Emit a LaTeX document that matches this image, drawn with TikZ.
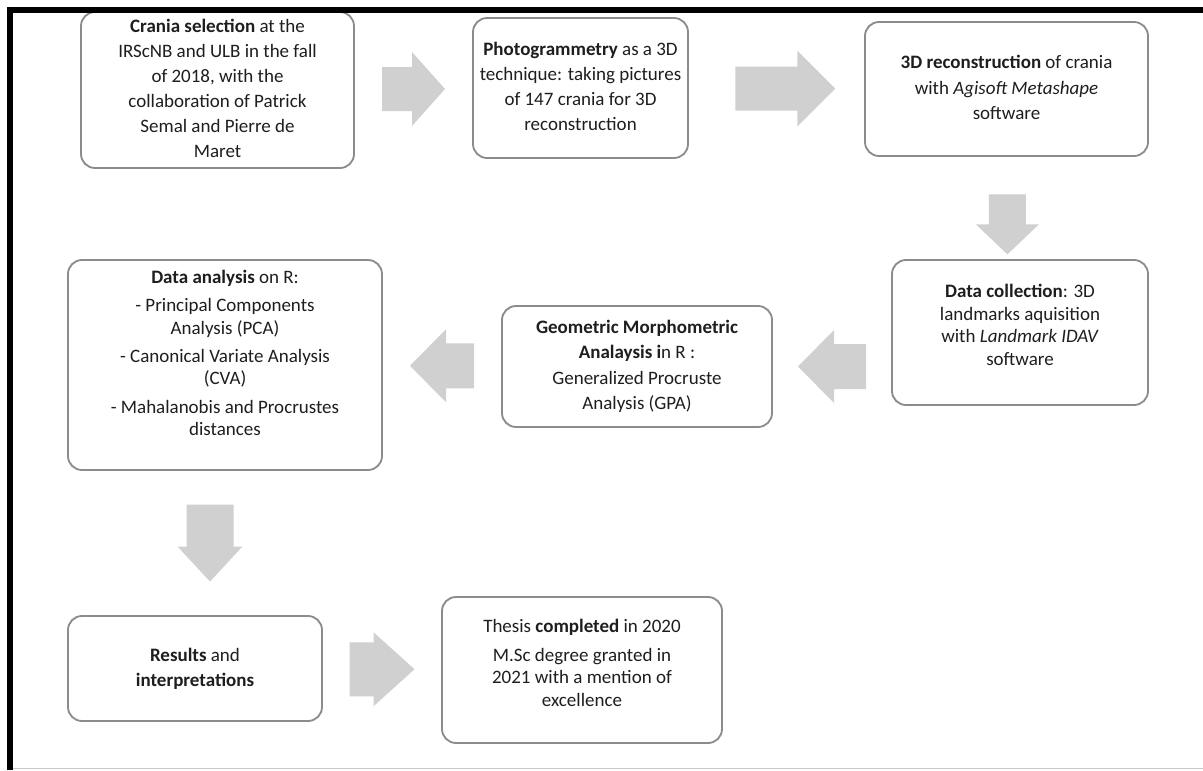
\documentclass[tikz,border=0pt]{standalone}
\usepackage{fontspec}
\setmainfont{Carlito}
\usetikzlibrary{calc,positioning}
\definecolor{boxline}{HTML}{8C8C8C}
\definecolor{arrowfill}{HTML}{D0D0D0}
\definecolor{txt}{HTML}{1E1E1E}
\definecolor{footline}{HTML}{C8C8C8}
\newcommand{\pxu}{0.025cm}
% lines of a box, centred
\newcommand{\boxtext}[1]{\begin{tabular}{@{}c@{}}#1\end{tabular}}
\tikzset{pics/blockarrow/.style n args={4}{code={
  \fill[arrowfill] ({-#1/2},{-#3/2}) -- ({#1/2-#4},{-#3/2}) -- ({#1/2-#4},{-#2/2})
    -- ({#1/2},0) -- ({#1/2-#4},{#2/2}) -- ({#1/2-#4},{#3/2}) -- ({-#1/2},{#3/2}) -- cycle;}}}

\begin{document}
\begin{tikzpicture}[x=\pxu,y=-\pxu,font=\fontsize{13.5}{17.8}\selectfont,text=txt,
  stepbox/.style={draw=boxline,line width=1.3pt,rounded corners=0.35cm,fill=white,
                  align=center,inner sep=2pt},
  boxdim/.style 2 args={minimum width=#1*\pxu,minimum height=#2*\pxu},
  tight/.style={font=\fontsize{13.5}{#1}\selectfont}]
  \useasboundingbox (0,0) rectangle (1203,770);
  % steps, in reading order
  \node[stepbox,boxdim={273}{156}] (crania) at (217.5,90)
   {\boxtext{\textbf{Crania selection} at the\\IRScNB and ULB in the fall\\of 2018, with the\\
    collaboration of Patrick\\Semal and Pierre de\\Maret}};
  \node[stepbox,boxdim={215}{140}] (photo) at (580.5,88)
   {\boxtext{\textbf{Photogrammetry} as a 3D\\technique: taking pictures\\of 147 crania for 3D\\reconstruction}};
  \node[stepbox,boxdim={283}{134}] (recon) at (1006.5,89)
   {\boxtext{\textbf{3D reconstruction} of crania\\with \textit{Agisoft Metashape}\\software}};
  \node[stepbox,tight=16.3,boxdim={256}{145}] (collect) at (1020,332.5)
   {\boxtext{\textbf{Data collection}: 3D\\landmarks aquisition\\with \textit{Landmark IDAV}\\software\\[8pt]}};
  \node[stepbox,boxdim={270}{121}] (gmm) at (637,366.5)
   {\boxtext{\textbf{Geometric Morphometric}\\\textbf{Analaysis i}n R :\\Generalized Procruste\\Analysis (GPA)}};
  \node[stepbox,tight=16,boxdim={314}{210}] (analysis) at (225,365)
   {\boxtext{\textbf{Data analysis} on R:\\[4pt]- Principal Components\\Analysis (PCA)\\[4pt]
    - Canonical Variate Analysis\\(CVA)\\[4pt]- Mahalanobis and Procrustes\\distances\\[14pt]}};
  \node[stepbox,boxdim={254}{105}] (results) at (195,668.5)
   {\boxtext{\textbf{Results} and\\\textbf{interpretations}}};
  \node[stepbox,tight=16.3,boxdim={280}{146}] (thesis) at (582,670)
   {\boxtext{Thesis \textbf{completed} in 2020\\[4pt]M.Sc degree granted in\\2021 with a mention of\\excellence\\[7pt]}};
  % block arrows between the steps
  \pic (a1) at ($(crania.east)!0.5!(photo.west)$) {blockarrow={63}{74}{44}{33}};
  \pic (a2) at ($(photo.east)!0.55!(recon.west)$) {blockarrow={100}{76}{44}{38}};
  \pic[rotate=-90] (a3) at ($(recon.south)!0.66!(collect.north)+(-8,0)$) {blockarrow={60}{63}{37}{30}};
  \pic[rotate=180] (a4) at ($(gmm.east)!0.5!(collect.west |- gmm.east)$) {blockarrow={68}{73}{45}{36}};
  \pic[rotate=180] (a5) at ($(gmm.west)!0.5!(analysis.east)$) {blockarrow={64}{73}{45}{36}};
  \pic[rotate=-90] (a6) at ($(analysis.south)!0.5!(results.north)$) {blockarrow={77}{65}{47}{35}};
  \pic (a7) at ($(results.east)!0.5!(thesis.west)$) {blockarrow={65}{74}{54}{41}};
  % page frame
  \draw[footline,line width=1.5*\pxu] (13,768.5) -- (1203,768.5);
  \draw[black,line width=6*\pxu] (10,770) -- (10,10) -- (1203,10);
\end{tikzpicture}
\end{document}
